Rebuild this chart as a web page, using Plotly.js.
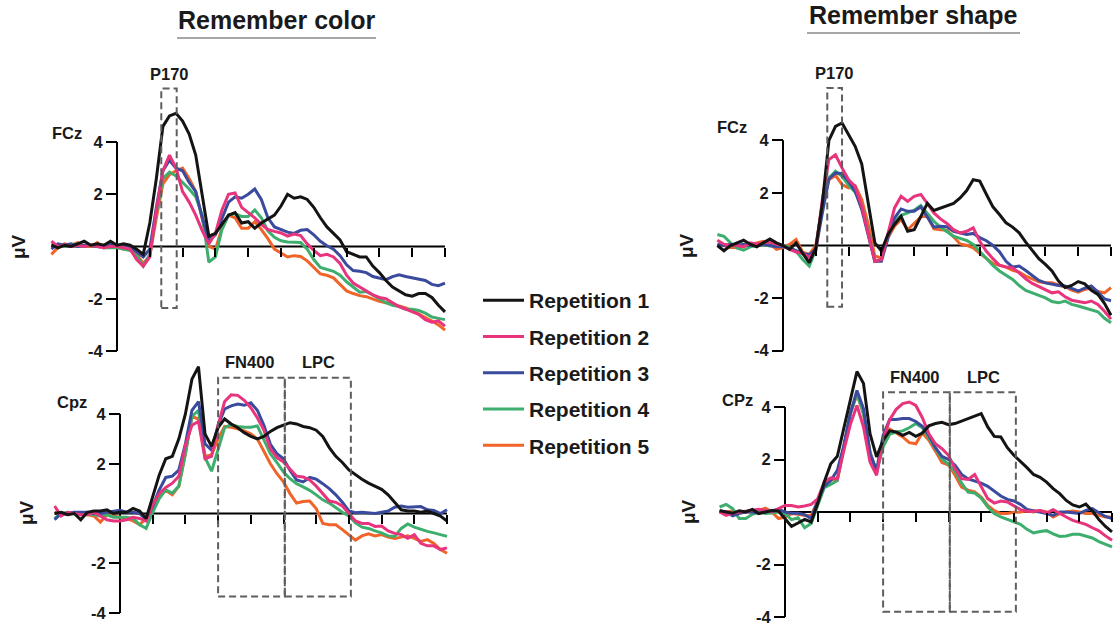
<!DOCTYPE html>
<html><head><meta charset="utf-8">
<script src="https://cdn.plot.ly/plotly-3.0.1.min.js"></script>
<style>html,body{margin:0;padding:0;background:#fff}#chart{width:1116px;height:633px}</style>
</head><body><div id="chart"></div>
<script>
// ---------- DATA ----------
const times = [-200,-180,-160,-140,-120,-100,-80,-60,-40,-20,0,20,40,60,80,100,120,140,160,180,200,220,240,260,280,300,320,340,360,380,400,420,440,460,480,500,520,540,560,580,600,620,640,660,680,700,720,740,760,780,800,820,840,860,880,900,920,940,960,980,1000];
const repNames = ['Repetition 1','Repetition 2','Repetition 3','Repetition 4','Repetition 5'];
const xTickVals = [100,200,300,400,500,600,700,800,900,1000];
const yTickVals = [-4,-2,2,4];
const yTickText = ['-4','-2','2','4'];
const channelLabels = ['FCz','Cpz','FCz','CPz'];
const conditionTitles = ['Remember color','Remember shape'];
const componentNames = ['P170','FN400','LPC'];

// Remember color, FCz
const colorFCz1 = [0.05,-0.05,0.05,0.0,0.1,0.2,0.05,0.1,0.05,0.2, 0.05,0.1,0.05,-0.1,-0.3,0.9,2.6,4.6,5.0,5.1, 4.8,4.3,3.5,1.9,0.4,0.5,0.85,1.2,1.3,0.9, 0.95,0.7,0.9,1.05,1.2,1.55,2.0,1.85,1.9,1.8, 1.5,1.1,0.75,0.5,0.25,-0.2,-0.3,-0.4,-0.4,-0.75, -1.0,-1.3,-1.55,-1.7,-1.85,-1.9,-1.8,-1.8,-1.95,-2.25, -2.5];
const colorFCz2 = [0.2,0.0,0.05,0.0,0.05,0.0,0.05,0.0,-0.05,0.0, 0.0,-0.05,-0.1,-0.5,-0.75,-0.4,1.4,2.9,3.5,3.0, 2.1,1.7,1.2,0.6,0.1,0.5,1.4,2.0,2.05,1.5, 1.3,1.1,0.85,0.65,0.58,0.52,0.4,0.48,0.42,0.1, -0.15,-0.35,-0.3,-0.4,-0.65,-1.1,-1.4,-1.55,-1.7,-1.85, -1.95,-2.0,-2.15,-2.3,-2.4,-2.5,-2.6,-2.8,-2.9,-2.85, -3.05];
const colorFCz3 = [-0.1,0.1,0.05,0.1,0.0,0.05,0.05,0.0,0.05,0.1, 0.05,0.0,0.0,-0.2,-0.4,-0.1,1.5,2.9,3.3,3.0, 2.9,2.45,2.1,1.1,0.25,0.45,1.05,1.7,1.9,1.85, 2.0,2.2,1.8,1.1,0.75,0.65,0.55,0.5,0.62,0.65, 0.45,0.2,0.03,-0.1,-0.35,-0.7,-0.92,-0.95,-1.0,-1.15, -1.2,-1.27,-1.15,-1.08,-1.15,-1.2,-1.25,-1.3,-1.45,-1.5, -1.4];
const colorFCz4 = [0.1,0.05,0.0,0.05,0.1,0.0,0.05,0.0,-0.05,-0.05, -0.05,-0.1,-0.15,-0.35,-0.75,-0.3,1.3,2.6,2.85,2.7, 2.45,2.2,1.9,1.2,-0.6,-0.4,0.65,1.2,1.25,1.15, 1.15,1.4,1.1,0.6,0.35,0.22,0.17,0.17,0.15,-0.1, -0.5,-0.8,-0.88,-0.95,-1.1,-1.35,-1.55,-1.75,-1.72,-1.85, -2.0,-2.15,-2.25,-2.3,-2.4,-2.4,-2.45,-2.55,-2.7,-2.75, -2.8];
const colorFCz5 = [-0.3,-0.05,0.1,0.05,0.15,0.0,0.0,0.15,-0.05,0.0, 0.0,-0.1,-0.05,-0.3,-0.65,-0.35,1.1,2.4,2.75,2.9, 3.0,2.6,2.1,1.0,0.0,-0.1,0.7,1.2,1.1,0.7, 0.7,0.95,0.65,0.3,-0.1,-0.25,-0.4,-0.35,-0.38,-0.55, -0.8,-1.05,-1.1,-1.2,-1.45,-1.7,-1.8,-1.88,-1.92,-2.0, -2.1,-2.15,-2.2,-2.28,-2.35,-2.45,-2.6,-2.72,-2.85,-3.0, -3.2];

// Remember color, Cpz
const colorCPz1 = [0.0,0.05,-0.05,0.0,-0.25,0.05,0.1,0.1,0.15,0.0, 0.05,0.05,0.2,0.1,-0.2,0.7,1.55,2.2,2.3,3.0, 4.0,5.4,5.9,3.2,2.7,3.45,3.8,3.6,3.45,3.25, 3.1,3.0,3.1,3.3,3.45,3.55,3.65,3.6,3.5,3.45, 3.35,3.1,2.65,2.3,2.05,1.75,1.55,1.38,1.22,1.1, 0.97,0.75,0.45,0.15,0.1,0.1,0.05,0.1,0.0,-0.1, -0.3];
const colorCPz2 = [0.3,-0.1,0.05,0.0,-0.05,-0.05,0.05,-0.1,-0.25,-0.3, -0.3,-0.25,-0.15,-0.2,-0.3,0.35,0.8,1.05,1.22,1.5, 2.75,3.55,3.7,2.2,2.3,3.55,4.5,4.77,4.75,4.55, 4.25,3.85,3.35,2.6,2.25,2.07,1.8,1.5,1.47,1.35, 1.1,0.8,0.5,0.45,0.3,0.0,-0.3,-0.4,-0.4,-0.52, -0.5,-0.7,-0.8,-0.85,-1.0,-0.85,-1.2,-1.3,-1.3,-1.45, -1.38];
const colorCPz3 = [-0.25,0.0,0.0,0.05,0.05,0.05,0.0,0.0,0.05,0.1, 0.13,0.05,0.05,0.0,-0.25,0.3,0.95,1.45,1.5,1.75, 2.8,4.15,4.5,2.8,2.55,3.55,4.2,4.33,4.4,4.35, 4.45,4.15,3.55,2.78,2.4,2.2,1.73,1.35,1.27,1.45, 1.38,1.2,1.0,0.75,0.45,0.1,0.03,0.05,0.03,0.0, 0.05,0.1,0.25,0.3,0.25,0.28,0.28,0.15,0.12,0.0, 0.15];
const colorCPz4 = [-0.2,0.0,0.05,0.0,-0.05,0.0,-0.05,-0.1,-0.05,-0.15, -0.15,-0.15,-0.2,-0.45,-0.6,0.05,0.6,0.95,0.82,1.1, 2.4,3.9,4.15,2.25,1.7,2.6,3.45,3.57,3.5,3.47, 3.47,3.52,2.95,2.4,2.05,1.67,1.4,1.2,1.07,0.93, 0.75,0.55,0.42,0.22,0.05,-0.1,-0.38,-0.55,-0.6,-0.7, -0.78,-0.9,-0.92,-0.6,-0.42,-0.55,-0.65,-0.72,-0.78,-0.85, -0.92];
const colorCPz5 = [0.05,0.0,-0.05,0.05,0.0,-0.05,-0.1,-0.35,-0.05,-0.1, -0.15,-0.2,-0.3,-0.45,-0.2,0.2,0.75,0.92,0.75,1.1, 2.4,3.9,3.8,2.3,2.35,3.0,3.5,3.47,3.4,3.32, 3.2,3.0,2.5,2.0,1.6,1.27,0.8,0.42,0.48,0.5, 0.2,-0.4,-0.45,-0.45,-0.65,-0.87,-1.07,-0.9,-0.82,-0.9, -0.85,-0.95,-1.0,-0.95,-0.9,-1.0,-1.12,-1.05,-1.2,-1.45, -1.6];

// Remember shape, FCz
const shapeFCz1 = [0.0,-0.2,0.0,0.1,0.2,0.05,-0.05,0.1,0.25,0.1, 0.0,-0.15,0.1,-0.3,-0.65,-0.1,1.6,4.0,4.53,4.66, 4.2,3.77,3.1,1.55,0.1,-0.2,0.42,0.8,1.11,0.54, 0.6,1.1,1.6,1.33,1.43,1.52,1.6,1.81,2.09,2.5, 2.45,1.95,1.47,1.18,0.86,0.7,0.48,0.13,-0.2,-0.5, -0.72,-0.97,-1.35,-1.6,-1.52,-1.37,-1.46,-1.7,-1.86,-2.2, -2.65];
const shapeFCz2 = [0.2,0.05,0.0,0.0,-0.05,0.1,0.05,0.1,0.15,0.05, 0.0,-0.15,-0.25,-0.3,-0.45,-0.2,1.75,3.27,3.45,2.95, 2.5,2.25,1.5,0.42,-0.6,-0.53,0.42,1.43,1.87,1.68, 1.87,1.94,1.6,1.24,1.01,0.84,0.6,0.48,0.54,0.67, 0.16,-0.22,-0.5,-0.75,-0.82,-0.85,-1.04,-1.27,-1.44,-1.57, -1.7,-1.8,-1.76,-1.95,-2.08,-2.14,-2.18,-2.11,-2.24,-2.5, -2.8];
const shapeFCz3 = [0.05,0.0,0.05,0.0,0.05,0.0,0.05,0.05,0.0,-0.05, -0.05,-0.1,-0.2,-0.3,-0.35,-0.15,1.24,2.53,2.76,2.73, 2.44,2.06,1.37,0.33,-0.6,-0.6,0.29,1.05,1.39,1.3, 1.3,1.47,1.11,0.7,0.73,0.71,0.54,0.48,0.42,0.46, 0.3,0.18,0.0,-0.24,-0.6,-0.82,-0.78,-0.95,-1.14,-1.33, -1.42,-1.48,-1.52,-1.54,-1.65,-1.73,-1.62,-1.54,-1.77,-2.03, -2.1];
const shapeFCz4 = [0.42,0.35,0.1,-0.1,-0.18,-0.05,0.0,0.04,-0.02,0.0, 0.0,-0.06,-0.22,-0.53,-0.78,-0.15,1.62,2.57,2.82,2.63, 2.29,2.03,1.52,0.48,-0.6,-0.53,0.35,0.92,1.15,1.24, 1.34,1.52,1.24,0.92,0.7,0.52,0.35,0.27,0.19,0.04, -0.22,-0.5,-0.76,-0.97,-1.14,-1.29,-1.52,-1.71,-1.8,-1.89, -1.99,-2.13,-2.18,-2.11,-2.24,-2.3,-2.37,-2.43,-2.52,-2.77, -2.94];
const shapeFCz5 = [0.0,0.0,-0.08,-0.08,0.0,0.04,0.1,0.16,0.06,-0.15, -0.08,0.04,0.23,-0.25,-0.34,0.0,1.5,2.5,2.67,2.32, 2.19,2.28,1.75,0.8,-0.4,-0.47,0.29,0.73,0.99,0.6, 0.84,1.09,1.11,0.63,0.6,0.58,0.33,0.06,0.01,-0.09, -0.3,-0.5,-0.68,-0.75,-0.82,-0.94,-1.01,-1.16,-1.27,-1.38, -1.42,-1.42,-1.5,-1.57,-1.7,-1.77,-1.67,-1.62,-1.75,-1.8, -1.6];

// Remember shape, CPz
const shapeCPz1 = [0.05,0.0,-0.05,0.05,0.0,0.1,-0.06,0.0,0.06,0.04, -0.25,-0.55,-0.42,-0.28,-0.38,0.32,1.14,1.84,2.12,3.2, 4.38,5.35,4.9,2.98,2.1,2.73,3.09,3.05,2.92,3.03, 2.88,3.01,3.28,3.37,3.42,3.33,3.37,3.47,3.54,3.66, 3.75,3.24,2.88,2.86,2.45,2.16,1.94,1.69,1.43,1.32, 1.14,0.89,0.7,0.44,0.27,0.19,0.3,0.04,-0.29,-0.55, -0.76];
const shapeCPz2 = [0.0,-0.13,-0.04,0.0,0.04,0.06,0.1,0.06,0.0,0.13, 0.25,0.25,0.19,0.23,0.29,0.5,1.14,1.3,1.26,2.35, 3.34,4.06,3.24,1.9,1.4,2.73,3.52,3.91,4.13,4.19, 4.06,3.59,2.98,2.6,2.41,2.16,1.65,1.27,1.24,1.43, 0.98,0.51,0.34,0.42,0.38,0.23,0.09,0.03,0.03,0.06, -0.04,0.09,-0.06,-0.19,-0.32,-0.39,-0.47,-0.6,-0.72,-0.91, -1.08];
const shapeCPz3 = [0.05,0.0,-0.15,-0.05,0.0,0.0,-0.05,0.0,0.05,0.1, 0.0,-0.05,-0.05,-0.1,-0.25,0.44,0.98,1.2,1.59,2.54, 3.77,4.63,3.94,2.22,1.59,2.92,3.52,3.52,3.56,3.56, 3.45,3.26,2.92,2.45,2.12,2.0,1.78,1.43,1.26,1.19, 1.1,0.98,0.79,0.61,0.48,0.42,0.29,0.1,0.05,0.0, -0.06,-0.13,0.0,0.0,-0.03,-0.06,0.06,0.13,-0.03,-0.17, -0.25];
const shapeCPz4 = [0.19,0.29,0.13,-0.25,-0.25,-0.09,0.0,-0.06,-0.04,0.0, -0.06,-0.29,-0.22,-0.6,-0.44,0.22,0.93,1.05,1.2,2.48, 3.75,4.51,3.75,2.29,1.52,2.48,2.96,3.05,3.09,3.21, 3.37,3.21,2.83,2.41,2.03,1.82,1.55,1.1,0.76,0.72, 0.53,0.19,-0.06,-0.19,-0.29,-0.36,-0.47,-0.66,-0.8,-0.74, -0.71,-0.83,-0.93,-0.91,-0.85,-0.85,-0.91,-0.99,-1.13,-1.23, -1.33];
const shapeCPz5 = [0.0,0.0,0.05,-0.05,0.0,0.0,0.05,0.15,0.0,-0.25, -0.19,-0.06,-0.09,-0.13,-0.13,0.44,0.98,1.24,1.23,2.48, 3.75,4.48,3.75,2.29,1.52,2.67,3.16,3.01,2.86,2.64, 2.6,3.01,2.73,2.32,1.88,1.79,1.4,0.95,0.83,0.77, 0.57,0.25,0.05,-0.06,-0.06,-0.01,0.0,0.05,0.0,0.06, 0.0,-0.19,-0.06,0.0,0.04,0.0,-0.06,-0.06,-0.13,-0.19, -0.19];

// ERP component time windows (ms)
const p170Window = [135, 182];
const fn400Window = [300, 504];
const lpcWindow = [504, 706];

// ---------- STYLE / LAYOUT ----------
const W = 1116, H = 633;
const FONT = 'Liberation Sans, Arial, Helvetica, sans-serif';
const INK = '#1a1a1a';
const repColors = ['#141414', '#e8347d', '#3a4a9c', '#3dae6e', '#f0642a'];
const boxColor = '#5e5e5e';

const panels = [
  { series:[colorFCz1,colorFCz2,colorFCz3,colorFCz4,colorFCz5], x0:117, xs:0.328, y0:246.5, ys:26.125, yr:[-4.45,7.3],
    boxes:[{w:p170Window, y:[-2.35,6.05]}] },
  { series:[colorCPz1,colorCPz2,colorCPz3,colorCPz4,colorCPz5], x0:120, xs:0.327, y0:513.5, ys:24.875, yr:[-4.45,6.5],
    boxes:[{w:fn400Window, y:[-3.34,5.46]},{w:lpcWindow, y:[-3.34,5.46]}] },
  { series:[shapeFCz1,shapeFCz2,shapeFCz3,shapeFCz4,shapeFCz5], x0:783, xs:0.328, y0:245.5, ys:26.3, yr:[-4.45,7.3],
    boxes:[{w:[135,180], y:[-2.33,5.99]}] },
  { series:[shapeCPz1,shapeCPz2,shapeCPz3,shapeCPz4,shapeCPz5], x0:785, xs:0.327, y0:512, ys:26.25, yr:[-4.4,6.0],
    boxes:[{w:fn400Window, y:[-3.8,4.56]},{w:lpcWindow, y:[-3.8,4.56]}] }
];
const xRange = [-204, 1004];

const traces = [];
const shapes = [];
const layout = {
  width: W, height: H, autosize: false,
  margin: {l:0, r:0, t:0, b:0, pad:0},
  paper_bgcolor: '#ffffff', plot_bgcolor: 'rgba(0,0,0,0)',
  font: {family: FONT, color: INK},
  showlegend: true,
  legend: {
    x: 478/W, y: 1 - 280/H, xanchor: 'left', yanchor: 'top',
    traceorder: 'grouped', tracegroupgap: 6, itemwidth: 41,
    font: {family: FONT, size: 21, weight: 'bold', color: INK},
    bgcolor: 'rgba(0,0,0,0)', borderwidth: 0
  },
  annotations: [],
  shapes: shapes
};

panels.forEach((p, i) => {
  const s = i === 0 ? '' : String(i + 1);
  const xd = [(p.x0 + xRange[0]*p.xs)/W, (p.x0 + xRange[1]*p.xs)/W];
  const yTopPx = p.y0 - p.yr[1]*p.ys, yBotPx = p.y0 - p.yr[0]*p.ys;
  const yd = [1 - yBotPx/H, 1 - yTopPx/H];
  layout['xaxis' + s] = {
    domain: xd, range: xRange, anchor: 'free', position: 1 - p.y0/H,
    showgrid: false, zeroline: false, showline: false,
    ticks: 'outside', tickmode: 'array', tickvals: xTickVals, ticklen: 9, tickwidth: 2, tickcolor: '#000',
    showticklabels: false, fixedrange: true
  };
  layout['yaxis' + s] = {
    domain: yd, range: p.yr, anchor: 'free', position: p.x0/W,
    showgrid: false, zeroline: false, showline: false,
    ticks: 'outside', tickmode: 'array', tickvals: yTickVals, ticktext: yTickText,
    ticklen: 11, tickwidth: 2, tickcolor: '#000',
    tickfont: {family: FONT, size: 16.5, weight: 'bold', color: INK}, fixedrange: true
  };
  // axis lines through zero
  shapes.push({type:'line', xref:'x'+s, yref:'y'+s, x0:-200, x1:1000, y0:0, y1:0, layer:'below', line:{color:'#000', width:2}});
  shapes.push({type:'line', xref:'x'+s, yref:'y'+s, x0:0, x1:0, y0:-4, y1:4, layer:'below', line:{color:'#000', width:2}});
  // component windows
  p.boxes.forEach(b => {
    shapes.push({type:'rect', xref:'x'+s, yref:'y'+s, x0:b.w[0], x1:b.w[1], y0:b.y[0], y1:b.y[1],
      line:{color:boxColor, width:2, dash:'7px,4px'}, fillcolor:'rgba(0,0,0,0)', layer:'above'});
  });
  // series, drawn 5..1 so Repetition 1 is on top
  for (let r = 4; r >= 0; r--) {
    traces.push({
      type: 'scatter', mode: 'lines', x: times, y: p.series[r],
      xaxis: 'x' + s, yaxis: 'y' + s,
      name: repNames[r], legendgroup: 'rep' + r, legendrank: r + 1, showlegend: i === 0,
      line: {color: repColors[r], width: 3},
      hovertemplate: repNames[r] + '<br>%{x} ms: %{y} µV<extra></extra>'
    });
  }
});

function ann(text, px, py, size, extra) {
  return Object.assign({
    text: text, xref: 'paper', yref: 'paper', x: px/W, y: 1 - py/H,
    xanchor: 'center', yanchor: 'middle', showarrow: false,
    font: {family: FONT, size: size, weight: 'bold', color: INK}
  }, extra || {});
}
layout.annotations.push(ann(conditionTitles[0], 277, 20, 25));
layout.annotations.push(ann(conditionTitles[1], 913, 15, 25));
shapes.push({type:'line', xref:'paper', yref:'paper', x0:177/W, x1:376/W, y0:1-38/H, y1:1-38/H, line:{color:'#8a8a8a', width:1.5}});
shapes.push({type:'line', xref:'paper', yref:'paper', x0:807/W, x1:1020/W, y0:1-33/H, y1:1-33/H, line:{color:'#8a8a8a', width:1.5}});
layout.annotations.push(ann(componentNames[0], 169, 74, 16.5));
layout.annotations.push(ann(componentNames[0], 834, 73, 16.5));
layout.annotations.push(ann(componentNames[1], 250, 362, 16.5));
layout.annotations.push(ann(componentNames[2], 318, 362, 16.5));
layout.annotations.push(ann(componentNames[1], 915, 377, 16.5));
layout.annotations.push(ann(componentNames[2], 983, 377, 16.5));
layout.annotations.push(ann(channelLabels[0], 67, 133, 16.5));
layout.annotations.push(ann(channelLabels[1], 72, 402, 16.5));
layout.annotations.push(ann(channelLabels[2], 732, 127, 16.5));
layout.annotations.push(ann(channelLabels[3], 737, 400, 16.5));
[[18,247],[26,513],[686,246],[688,512]].forEach(c => {
  layout.annotations.push(ann('μV', c[0], c[1], 19, {textangle: -90}));
});

Plotly.newPlot('chart', traces, layout, {displayModeBar: false, responsive: false});
</script></body></html>
